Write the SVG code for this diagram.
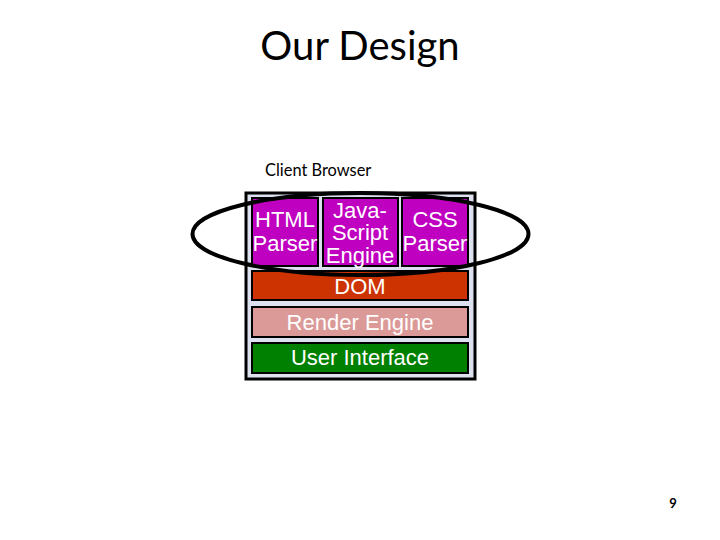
<svg xmlns="http://www.w3.org/2000/svg" width="720" height="540" viewBox="0 0 720 540">
<style>
.t{font-family:"Liberation Sans",Arial,sans-serif;font-size:22px;fill:#fff;text-anchor:middle}
.box{stroke:#000;stroke-width:2}
.p{fill:#c000c0}
</style>
<rect width="720" height="540" fill="#fff"/>
<text x="360" y="60" font-family="Lato,'Open Sans',sans-serif" font-size="40" text-anchor="middle" fill="#000">Our Design</text>
<text x="265" y="176" font-family="Lato,'Open Sans',sans-serif" font-size="16.4" fill="#000">Client Browser</text>
<g id="client-browser"><rect x="246" y="193" width="229" height="186" fill="#dde0ee" stroke="#000" stroke-width="3"/></g>
<g id="html-parser"><rect class="box p" x="252" y="198" width="66" height="68"/><text class="t" x="285" y="227">HTML</text><text class="t" x="285" y="251">Parser</text></g>
<g id="js-engine"><rect class="box p" x="323" y="198" width="75" height="68"/><text class="t" x="360" y="218">Java-</text><text class="t" x="360" y="240">Script</text><text class="t" x="360" y="263">Engine</text></g>
<g id="css-parser"><rect class="box p" x="402" y="198" width="66" height="68"/><text class="t" x="435" y="227">CSS</text><text class="t" x="435" y="251">Parser</text></g>
<g id="dom"><rect class="box" x="252" y="271" width="216" height="29" fill="#cc3300"/><text class="t" x="360" y="294">DOM</text></g>
<g id="render-engine"><rect class="box" x="252" y="307" width="216" height="30" fill="#db9a98"/><text class="t" x="360" y="330">Render Engine</text></g>
<g id="user-interface"><rect class="box" x="252" y="343" width="216" height="30" fill="#008000"/><text class="t" x="360" y="365">User Interface</text></g>
<g id="connectors"><ellipse cx="360.5" cy="234" rx="168" ry="41" fill="none" stroke="#000" stroke-width="4"/></g>
<text x="673" y="508" font-family="Lato,'Open Sans',sans-serif" font-size="13" font-weight="bold" text-anchor="middle" fill="#000">9</text>
</svg>
